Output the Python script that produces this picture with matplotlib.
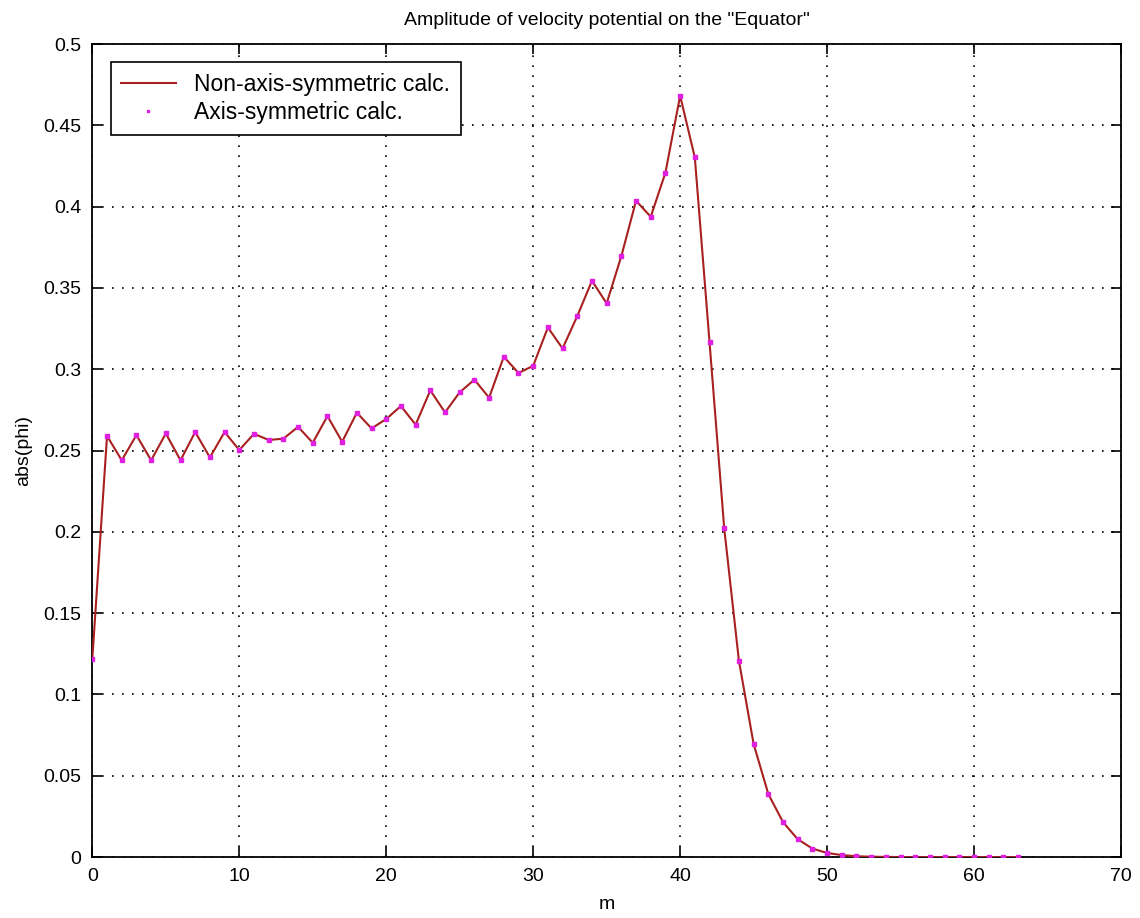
import matplotlib
matplotlib.use("Agg")
import matplotlib.pyplot as plt

m_values = list(range(0, 64))
abs_phi = [0.122, 0.259, 0.244, 0.2595, 0.244, 0.2605, 0.244, 0.2614, 0.2458, 0.2614,
           0.2503, 0.2603, 0.2565, 0.2573, 0.2646, 0.2548, 0.2712, 0.2554, 0.2733, 0.2636,
           0.2694, 0.2774, 0.2659, 0.287, 0.2735, 0.2858, 0.2936, 0.2825, 0.3077, 0.2977,
           0.3021, 0.3257, 0.3128, 0.3327, 0.3544, 0.3405, 0.3696, 0.4036, 0.3938, 0.4209,
           0.4682, 0.4303, 0.3168, 0.2022, 0.1208, 0.0696, 0.0388, 0.0215, 0.0110, 0.0052,
           0.0025, 0.0012, 0.0005, 0.0002, 0.0001, 0.0, 0.0, 0.0, 0.0, 0.0,
           0.0, 0.0, 0.0, 0.0]

xticks = [0, 10, 20, 30, 40, 50, 60, 70]
yticks = [0, 0.05, 0.1, 0.15, 0.2, 0.25, 0.3, 0.35, 0.4, 0.45, 0.5]
ytick_labels = ["0", "0.05", "0.1", "0.15", "0.2", "0.25", "0.3", "0.35", "0.4", "0.45", "0.5"]

plt.rcParams['font.family'] = ['Liberation Sans', 'DejaVu Sans']

fig = plt.figure(figsize=(11.4, 9.18), dpi=100)
ax = fig.add_axes([0.081, 0.0664, 0.9023, 0.8856])

ax.plot(m_values, abs_phi, color='#a8201f', lw=1.5, label='Non-axis-symmetric calc.', zorder=3)
ax.plot(m_values, abs_phi, linestyle='none', marker='s', color='#e020e0', markersize=3.5,
        label='Axis-symmetric calc.', zorder=4)

ax.set_xlim(0, 70)
ax.set_ylim(0, 0.5)
ax.set_xticks(xticks)
ax.set_yticks(yticks)
ax.set_yticklabels(ytick_labels)
ax.tick_params(direction='in', length=7, width=1.2, top=True, right=True, labelsize=14, pad=8)
ax.grid(True, color='black', linestyle=(0, (1, 5)), linewidth=1.2)
for s in ax.spines.values():
    s.set_linewidth(1.3)

ax.set_xlabel('m', fontsize=14, labelpad=8)
ax.set_ylabel('abs(phi)', fontsize=14, labelpad=8)
ax.set_title('Amplitude of velocity potential on the "Equator"', fontsize=14, pad=14)

leg = ax.legend(loc='upper left', fontsize=16.5, fancybox=False, edgecolor='black',
                framealpha=1, borderaxespad=0.8, handlelength=2.4, markerscale=0.6,
                borderpad=0.45, labelspacing=0.25, handletextpad=0.8)
leg.get_frame().set_linewidth(1.2)

fig.savefig('out.png', dpi=100)
